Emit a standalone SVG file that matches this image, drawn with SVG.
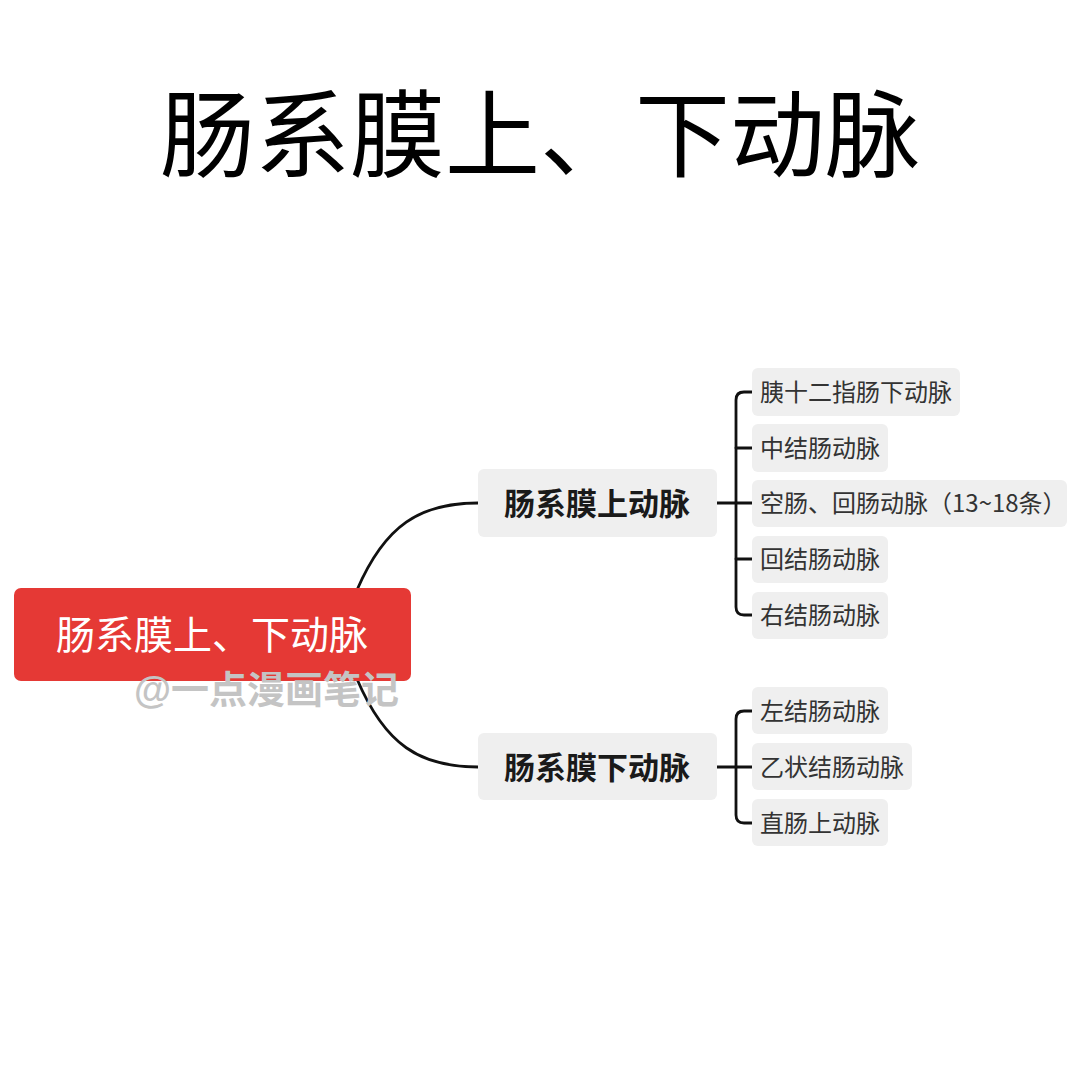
<svg xmlns="http://www.w3.org/2000/svg" width="1080" height="1080" viewBox="0 0 1080 1080">
<style>
text{font-family:"Noto Sans CJK SC","Noto Sans",sans-serif;}
.title{font-size:95px;fill:#000;text-anchor:middle;}
.root-box{fill:#E53935;}
.root-t{font-size:39px;fill:#fff;text-anchor:middle;dominant-baseline:central;}
.mid-box{fill:#EFEFEF;}
.mid-t{font-size:31px;font-weight:bold;fill:#1a1a1a;text-anchor:middle;dominant-baseline:central;}
.leaf-box{fill:#EFEFEF;}
.leaf-t{font-size:24px;fill:#333;dominant-baseline:central;}
.conn{fill:none;stroke:#111;stroke-width:2.8;stroke-linecap:round;}
.wm{font-size:38px;font-weight:bold;fill:#c4c4c4;font-family:"Liberation Sans","Noto Sans CJK SC",sans-serif;}
</style>
<rect width="1080" height="1080" fill="#fff"/>
<text class="title" x="540" y="170">肠系膜上、下动脉</text>

<g id="connectors">
<path class="conn" d="M357 590 C385 525,420 503,478 503"/>
<path class="conn" d="M357 679 C385 745,420 767,478 767"/>
<path class="conn" d="M717 503 H736"/>
<path class="conn" d="M752 392 H744 Q736 392 736 400 V607 Q736 615 744 615 H752"/>
<path class="conn" d="M736 448 H752"/>
<path class="conn" d="M736 503 H752"/>
<path class="conn" d="M736 559 H752"/>
<path class="conn" d="M717 767 H736"/>
<path class="conn" d="M752 711 H744 Q736 711 736 719 V815 Q736 823 744 823 H752"/>
<path class="conn" d="M736 767 H752"/>
</g>

<g id="root">
<rect class="root-box" x="14" y="588" width="397" height="93" rx="7"/>
<text class="root-t" x="212" y="632">肠系膜上、下动脉</text>
</g>

<g id="sma">
<rect class="mid-box" x="478" y="469" width="239" height="68" rx="6"/>
<text class="mid-t" x="597" y="501">肠系膜上动脉</text>
</g>
<g id="ima">
<rect class="mid-box" x="478" y="733" width="239" height="67" rx="6"/>
<text class="mid-t" x="597" y="765">肠系膜下动脉</text>
</g>

<g id="leaf1">
<rect class="leaf-box" x="752" y="368" width="208" height="48" rx="6"/>
<text class="leaf-t" x="760" y="390">胰十二指肠下动脉</text>
</g>
<g id="leaf2">
<rect class="leaf-box" x="752" y="424" width="136" height="48" rx="6"/>
<text class="leaf-t" x="760" y="446">中结肠动脉</text>
</g>
<g id="leaf3">
<rect class="leaf-box" x="752" y="480" width="315" height="47" rx="6"/>
<text class="leaf-t" x="760" y="501">空肠、回肠动脉（13~18条）</text>
</g>
<g id="leaf4">
<rect class="leaf-box" x="752" y="536" width="136" height="47" rx="6"/>
<text class="leaf-t" x="760" y="557">回结肠动脉</text>
</g>
<g id="leaf5">
<rect class="leaf-box" x="752" y="592" width="136" height="47" rx="6"/>
<text class="leaf-t" x="760" y="613">右结肠动脉</text>
</g>
<g id="leaf6">
<rect class="leaf-box" x="752" y="687" width="136" height="47" rx="6"/>
<text class="leaf-t" x="760" y="709">左结肠动脉</text>
</g>
<g id="leaf7">
<rect class="leaf-box" x="752" y="743" width="160" height="47" rx="6"/>
<text class="leaf-t" x="760" y="765">乙状结肠动脉</text>
</g>
<g id="leaf8">
<rect class="leaf-box" x="752" y="799" width="136" height="47" rx="6"/>
<text class="leaf-t" x="760" y="821">直肠上动脉</text>
</g>

<text class="wm" x="134" y="703">@一点漫画笔记</text>
</svg>
